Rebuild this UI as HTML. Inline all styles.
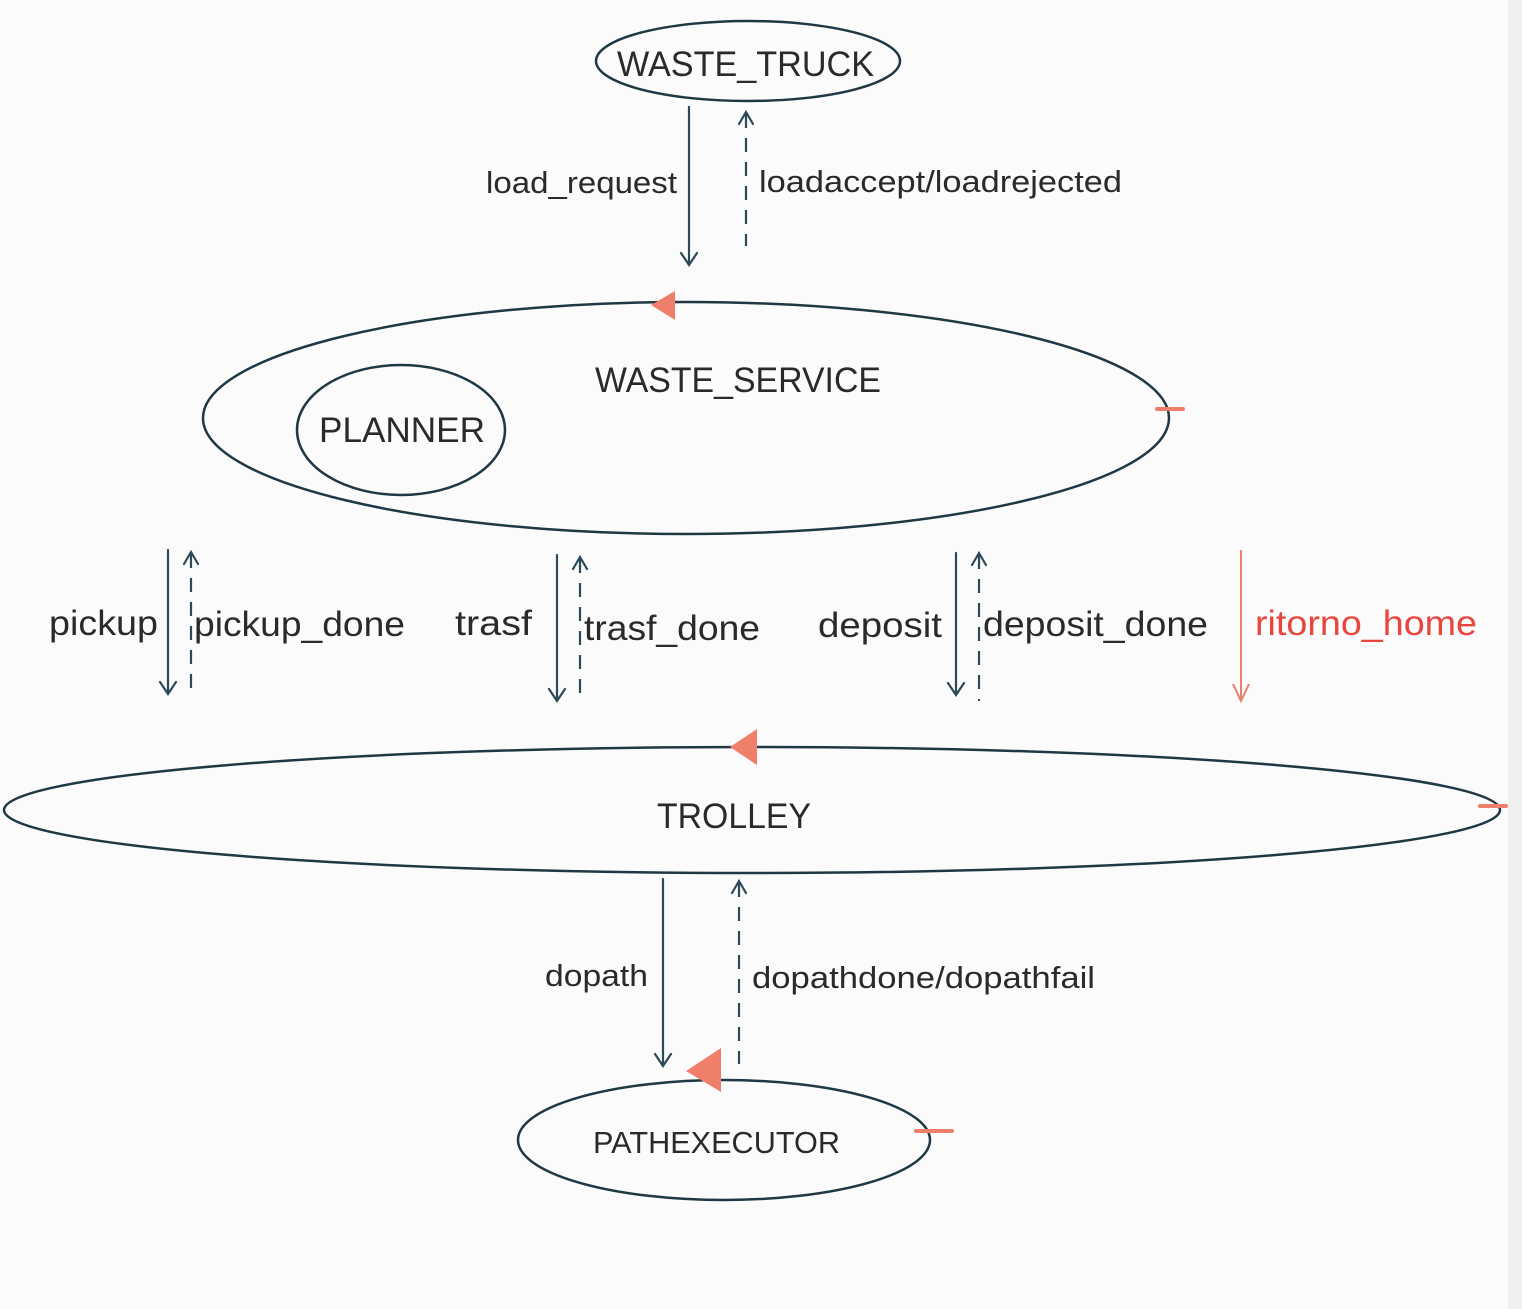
<!DOCTYPE html>
<html><head><style>
html,body{margin:0;padding:0;background:#fbfbfb;}
svg{display:block;}
text{font-family:"Liberation Sans",sans-serif;fill:#2a2a2a;}
</style></head><body>
<svg width="1522" height="1309" viewBox="0 0 1522 1309" xmlns="http://www.w3.org/2000/svg">
<rect x="0" y="0" width="1522" height="1309" fill="#fbfbfb"/>
<rect x="1508" y="0" width="14" height="1309" fill="#f0f0f0"/>
<g fill="none" stroke="#1f3844" stroke-width="2.5">
<ellipse cx="748" cy="61" rx="152" ry="40"/>
<ellipse cx="686" cy="418" rx="483" ry="116"/>
<ellipse cx="401" cy="430" rx="104" ry="65"/>
<ellipse cx="752" cy="810" rx="748" ry="63"/>
<ellipse cx="724" cy="1140" rx="206" ry="60"/>
</g>
<g fill="none" stroke="#2c4a58" stroke-width="2.2" stroke-linecap="round">
<path d="M689 107V265M681 253L689 265L697 253"/>
<path d="M168 550V694M160 682L168 694L176 682"/>
<path d="M557 555V701M549 689L557 701L565 689"/>
<path d="M956 553V695M948 683L956 695L964 683"/>
<path d="M663 879V1066M655 1054L663 1066L671 1054"/>
<path d="M739 124L746 112L753 124"/>
<path d="M184 564L191 552L198 564"/>
<path d="M573 569L580 557L587 569"/>
<path d="M972 565L979 553L986 565"/>
<path d="M732 893L739 881L746 893"/>
</g>
<g fill="none" stroke="#2c4a58" stroke-width="2.2" stroke-dasharray="14,10">
<path d="M746 114V246"/>
<path d="M191 554V694"/>
<path d="M580 559V701"/>
<path d="M979 555V701"/>
<path d="M739 883V1064"/>
</g>
<g fill="none" stroke="#e8806a" stroke-width="2">
<path d="M1241 550V701M1233 684L1241 701L1249 684"/>
</g>
<g fill="#ef7f6a">
<path d="M675 291L675 320L651 305Z"/>
<path d="M757 729L757 765L730 747Z"/>
<path d="M721 1048L721 1092L686 1071Z"/>
<rect x="1155" y="407" width="30" height="4" rx="2"/>
<rect x="1478" y="804" width="30" height="4" rx="2"/>
<rect x="914" y="1129" width="40" height="4" rx="2"/>
</g>
<text x="617" y="76" font-size="35" textLength="257" lengthAdjust="spacingAndGlyphs">WASTE_TRUCK</text>
<text x="595" y="392" font-size="35" textLength="286" lengthAdjust="spacingAndGlyphs">WASTE_SERVICE</text>
<text x="319" y="442" font-size="35" textLength="166" lengthAdjust="spacingAndGlyphs">PLANNER</text>
<text x="657" y="828" font-size="35" textLength="154" lengthAdjust="spacingAndGlyphs">TROLLEY</text>
<text x="593" y="1153" font-size="31" textLength="247" lengthAdjust="spacingAndGlyphs">PATHEXECUTOR</text>
<text x="486" y="193" font-size="31" textLength="191" lengthAdjust="spacingAndGlyphs">load_request</text>
<text x="759" y="192" font-size="31" textLength="363" lengthAdjust="spacingAndGlyphs">loadaccept/loadrejected</text>
<text x="49" y="635" font-size="35" textLength="109" lengthAdjust="spacingAndGlyphs">pickup</text>
<text x="194" y="636" font-size="35" textLength="211" lengthAdjust="spacingAndGlyphs">pickup_done</text>
<text x="455" y="635" font-size="35" textLength="77" lengthAdjust="spacingAndGlyphs">trasf</text>
<text x="584" y="640" font-size="35" textLength="176" lengthAdjust="spacingAndGlyphs">trasf_done</text>
<text x="818" y="637" font-size="35" textLength="124" lengthAdjust="spacingAndGlyphs">deposit</text>
<text x="983" y="636" font-size="35" textLength="225" lengthAdjust="spacingAndGlyphs">deposit_done</text>
<text x="1255" y="635" font-size="35" textLength="222" lengthAdjust="spacingAndGlyphs" style="fill:#e8453c">ritorno_home</text>
<text x="545" y="986" font-size="31" textLength="103" lengthAdjust="spacingAndGlyphs">dopath</text>
<text x="752" y="988" font-size="31" textLength="343" lengthAdjust="spacingAndGlyphs">dopathdone/dopathfail</text>
</svg>
</body></html>
